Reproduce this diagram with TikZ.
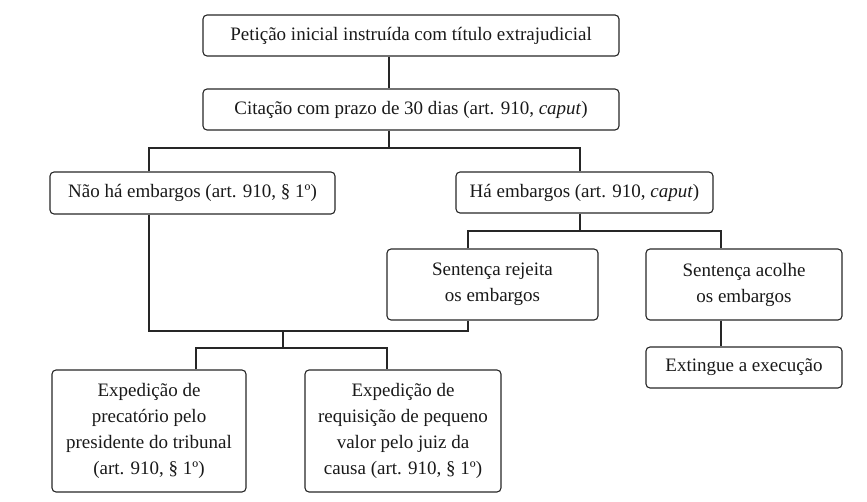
\documentclass[tikz,border=0pt]{standalone}
\usepackage{fontspec}
\setmainfont{Liberation Serif}
\usepackage{tikz}

\begin{document}
\begin{tikzpicture}[x=1pt,y=-1pt,
    box/.style={draw=black!85, line width=1.1pt, rounded corners=4pt, align=center,
        inner sep=0pt, font=\fontsize{19}{26}\selectfont, text=black!90},
    link/.style={draw=black!85, line width=1.1pt}]
    \useasboundingbox (0,0) rectangle (867,502);
    \node[box, minimum width=416, minimum height=41] (peticao) at (411,35.5) {Petição inicial instruída com título extrajudicial};
    \node[box, minimum width=416, minimum height=41] (citacao) at (411,109.5) {Citação com prazo de 30 dias (art. 910, \textit{caput})};
    \node[box, minimum width=285, minimum height=42] (naoha) at (192.5,193) {Não há embargos (art. 910, § 1º)};
    \node[box, minimum width=257, minimum height=41] (ha) at (584.5,192.5) {Há embargos (art. 910, \textit{caput})};
    \node[box, minimum width=211, minimum height=71] (rejeita) at (492.5,284.5) {Sentença rejeita\\os embargos};
    \node[box, minimum width=196, minimum height=71] (acolhe) at (744,284.5) {Sentença acolhe\\os embargos};
    \node[box, minimum width=196, minimum height=41] (extingue) at (744,367.5) {Extingue a execução};
    \node[box, minimum width=194, minimum height=122] (precatorio) at (149,431) {Expedição de\\precatório pelo\\presidente do tribunal\\(art. 910, § 1º)};
    \node[box, minimum width=196, minimum height=122] (rpv) at (403,431) {Expedição de\\requisição de pequeno\\valor pelo juiz da\\causa (art. 910, § 1º)};
    % junctions
    \coordinate (j1) at (389,148);
    \coordinate (j1l) at (149,148);
    \coordinate (j1r) at (580,148);
    \coordinate (j2) at (580,231);
    \coordinate (j2l) at (468,231);
    \coordinate (j2r) at (721,231);
    \coordinate (j3) at (283,331);
    \coordinate (j3l) at (149,331);
    \coordinate (j3r) at (468,331);
    \coordinate (j4) at (283,348);
    \coordinate (j4l) at (196,348);
    \coordinate (j4r) at (387,348);
    \draw[link] (peticao.south -| j1) -- (citacao.north -| j1);
    \draw[link] (citacao.south -| j1) -- (j1);
    \draw[link] (naoha.north -| j1l) -- (j1l) -- (j1r) -- (ha.north -| j1r);
    \draw[link] (ha.south -| j2) -- (j2);
    \draw[link] (rejeita.north -| j2l) -- (j2l) -- (j2r) -- (acolhe.north -| j2r);
    \draw[link] (acolhe.south -| j2r) -- (extingue.north -| j2r);
    \draw[link] (naoha.south -| j3l) -- (j3l) -- (j3r) -- (rejeita.south -| j3r);
    \draw[link] (j3) -- (j4);
    \draw[link] (precatorio.north -| j4l) -- (j4l) -- (j4r) -- (rpv.north -| j4r);
\end{tikzpicture}
\end{document}
